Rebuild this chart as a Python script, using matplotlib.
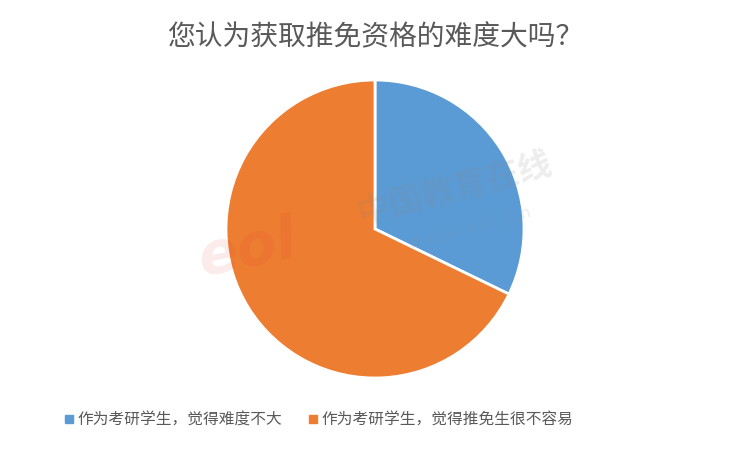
import matplotlib.pyplot as plt
from matplotlib.lines import Line2D

plt.rcParams['font.family'] = ['Noto Sans CJK SC', 'DejaVu Sans']

title = "您认为获取推免资格的难度大吗？"
labels = ["作为考研学生，觉得难度不大", "作为考研学生，觉得推免生很不容易"]
values = [32.2, 67.8]
colors = ["#5B9BD5", "#ED7D31"]

fig = plt.figure(figsize=(7.5, 4.49), dpi=100)

# pie axes: centre ~ (375, 229) px, radius ~149 px
ax = fig.add_axes([(375 - 149) / 750, (449 - 378) / 449, 298 / 750, 298 / 449])
ax.pie(values, colors=colors, startangle=90, counterclock=False,
       wedgeprops=dict(edgecolor="white", linewidth=2))
ax.set_xlim(-1.0, 1.0)
ax.set_ylim(-1.0, 1.0)
ax.set_aspect("equal")

fig.text(0.5, 1 - 37 / 449, title, ha="center", va="center",
         fontsize=20, color="#595959")

# faint watermark
fig.text(248 / 750, 1 - 250 / 449, "eol", fontsize=42, fontweight="bold",
         style="italic", color="#E8393B", alpha=0.10, rotation=12,
         ha="center", va="center", family="DejaVu Sans")
fig.text(455 / 750, 1 - 190 / 449, "中国教育在线", fontsize=24, color="#888888",
         alpha=0.15, rotation=15, ha="center", va="center", fontweight="bold")
fig.text(470 / 750, 1 - 228 / 449, "w w w . e o l . c n", fontsize=12,
         color="#888888", alpha=0.15, rotation=15, ha="center", va="center")

handles = [Line2D([], [], marker="s", linestyle="none", markersize=6,
                  markerfacecolor=c, markeredgecolor=c) for c in colors]
fig.legend(handles, labels, loc="center", bbox_to_anchor=(318 / 750, 1 - 420 / 449),
           ncol=2, frameon=False, fontsize=11.3, labelcolor="#595959",
           handletextpad=0.1, columnspacing=1.6, handlelength=0.8)

fig.savefig("out.png", dpi=100)
